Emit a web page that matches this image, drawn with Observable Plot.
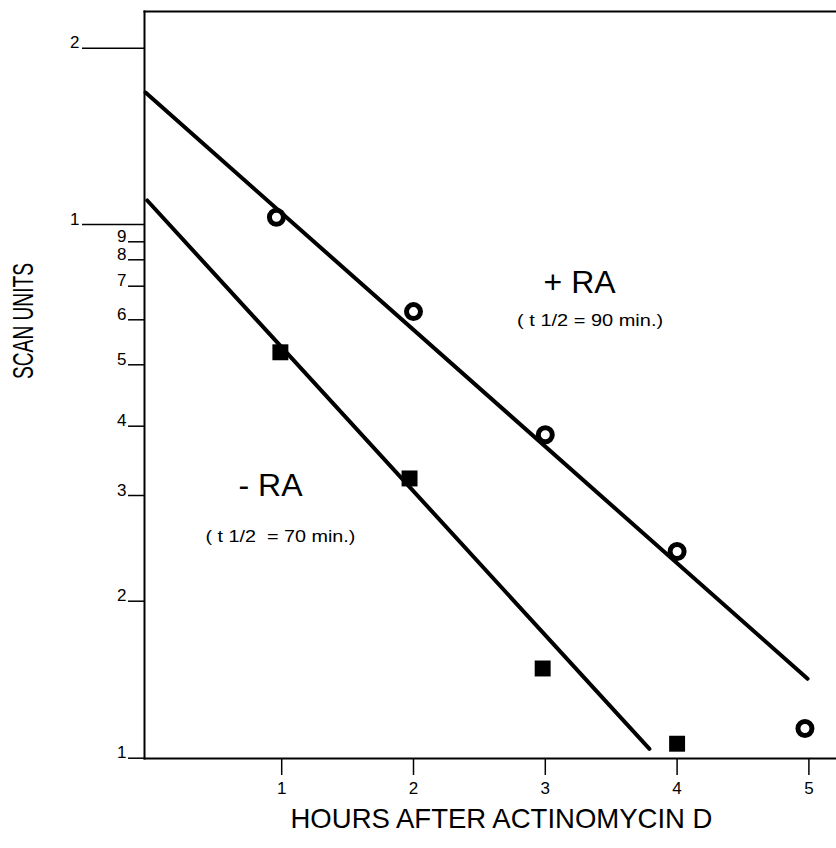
<!DOCTYPE html>
<html><head><meta charset="utf-8">
<script src="https://cdn.jsdelivr.net/npm/d3@7"></script>
<script src="https://cdn.jsdelivr.net/npm/@observablehq/plot@0.6"></script>
<style>body{margin:0;background:#fff}</style>
</head><body><div id="chart"></div>
<script>
// +RA (open circles)
const hoursPlus = [0.96, 2.0, 3.0, 4.0, 4.97];
const unitsPlus = [10.29, 6.23, 3.86, 2.42, 1.14];
// -RA (filled squares)
const hoursMinus = [0.99, 1.97, 2.98, 4.0];
const unitsMinus = [5.26, 3.22, 1.486, 1.066];
// fitted decay lines (end points)
const fitPlusHours = [-0.033, 4.99];
const fitPlusUnits = [16.8, 1.42];
const fitMinusHours = [-0.02, 3.79];
const fitMinusUnits = [10.99, 1.042];
// axes
const xTicks = [1, 2, 3, 4, 5];
const xTickLabels = ["1", "2", "3", "4", "5"];
const yMinorTicks = [1, 2, 3, 4, 5, 6, 7, 8, 9];
const yMajorTicks = [10, 20];
const yTickLabels = {1:"1",2:"2",3:"3",4:"4",5:"5",6:"6",7:"7",8:"8",9:"9",10:"1",20:"2"};
// hand-drawn log axis: tick values and where they sit
const yScaleValues = [1, 2, 3, 4, 5, 6, 7, 8, 9, 10, 20];
const yScalePixels = [757.7, 600.7, 495, 425.7, 364.3, 319.3, 285.7, 259.3, 241.3, 224, 47.7];
// annotations
const bigLabels = ["+ RA", "- RA"];
const bigLabelHours = [3.26, 0.915];
const bigLabelUnits = [6.79, 2.99];
const smallLabels = ["( t 1/2 = 90 min.)", "( t 1/2  = 70 min.)"];
const smallLabelHours = [3.34, 0.99];
const smallLabelUnits = [5.86, 2.51];
const xTitle = "HOURS AFTER ACTINOMYCIN D";
const yTitle = "SCAN UNITS";

const plus = hoursPlus.map((h, i) => ({h, u: unitsPlus[i]}));
const minus = hoursMinus.map((h, i) => ({h, u: unitsMinus[i]}));
const fitPlus = fitPlusHours.map((h, i) => ({h, u: fitPlusUnits[i]}));
const fitMinus = fitMinusHours.map((h, i) => ({h, u: fitMinusUnits[i]}));
const big = bigLabels.map((t, i) => ({t, h: bigLabelHours[i], u: bigLabelUnits[i]}));
const small = smallLabels.map((t, i) => ({t, h: smallLabelHours[i], u: smallLabelUnits[i]}));

const svg = Plot.plot({
  width: 836, height: 848,
  marginLeft: 144, marginRight: 0, marginTop: 11, marginBottom: 90,
  style: {fontFamily: "'Liberation Sans', Arial, Helvetica, sans-serif", fontSize: "17px", background: "#fff", color: "#000"},
  x: {domain: [0, 5], range: [149.4, 808.4]},
  y: {type: "log", domain: yScaleValues, range: yScalePixels},
  marks: [
    Plot.frame({anchor: "top", strokeWidth: 2}),
    Plot.frame({anchor: "left", strokeWidth: 2}),
    Plot.frame({anchor: "bottom", strokeWidth: 2}),
    Plot.axisX({ticks: xTicks, tickSize: 17, tickPadding: 6, tickFormat: d => xTickLabels[xTicks.indexOf(d)], fontSize: 17, strokeWidth: 1.5, label: null}),
    Plot.axisY({ticks: yMinorTicks, tickSize: 16, tickPadding: 2, tickFormat: d => yTickLabels[d], lineAnchor: "bottom", fontSize: 17, strokeWidth: 1.5, label: null}),
    Plot.axisY({ticks: yMajorTicks, tickSize: 62, tickPadding: 3, tickFormat: d => yTickLabels[d], lineAnchor: "bottom", fontSize: 17, strokeWidth: 1.5, label: null}),
    Plot.line(fitPlus, {x: "h", y: "u", stroke: "#000", strokeWidth: 4, strokeLinecap: "round"}),
    Plot.line(fitMinus, {x: "h", y: "u", stroke: "#000", strokeWidth: 4, strokeLinecap: "round"}),
    Plot.dot(plus, {x: "h", y: "u", r: 7, stroke: "#000", strokeWidth: 5, fill: "#fff"}),
    Plot.dot(minus, {x: "h", y: "u", r: 9, symbol: "square", fill: "#000", stroke: "none"}),
    Plot.text(big, {x: "h", y: "u", text: "t", fontSize: 32, lineAnchor: "bottom", textAnchor: "middle", fill: "#000"}),
    Plot.text(small, {x: "h", y: "u", text: "t", fontSize: 17, lineAnchor: "bottom", textAnchor: "middle", fill: "#000"}),
    Plot.text([yTitle], {frameAnchor: "left", dx: -121, dy: -64, rotate: -90, fontSize: 30, textAnchor: "middle", lineAnchor: "middle", fill: "#000"}),
    Plot.text([xTitle], {frameAnchor: "bottom", dx: 11, dy: 69, fontSize: 28, textAnchor: "middle", lineAnchor: "bottom", fill: "#000"})
  ]
});
const textLengths = {"SCAN UNITS": 116, "( t 1/2 = 90 min.)": 146, "( t 1/2  = 70 min.)": 150, "HOURS AFTER ACTINOMYCIN D": 422};
svg.querySelectorAll("text").forEach(t => {
  const L = textLengths[t.textContent];
  if (L) { t.setAttribute("textLength", L); t.setAttribute("lengthAdjust", "spacingAndGlyphs"); t.style.whiteSpace = "pre"; }
});
document.getElementById("chart").appendChild(svg);
</script>
</body></html>
